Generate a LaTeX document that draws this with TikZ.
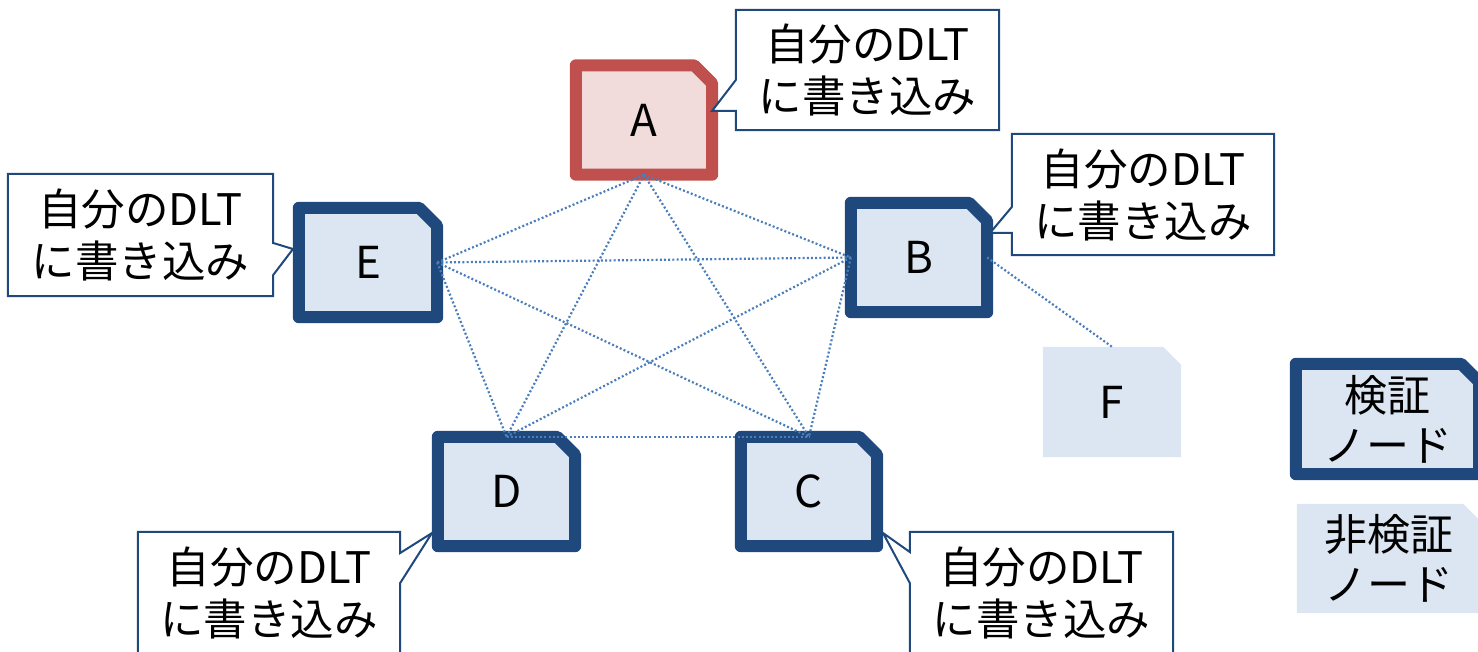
\documentclass[tikz,border=0pt]{standalone}
\usepackage{fontspec}
\setmainfont{Noto Sans CJK JP}
\usetikzlibrary{calc}
\definecolor{nblue}{HTML}{1F497D}
\definecolor{nfill}{HTML}{DCE6F2}
\definecolor{ared}{HTML}{C0504D}
\definecolor{afill}{HTML}{F2DCDB}
\definecolor{lineblue}{HTML}{4A7EBB}
\pgfdeclarelayer{boxes}
\pgfdeclarelayer{callouts}
\pgfsetlayers{boxes,callouts,main}
\tikzset{
 nd/.style={minimum width=136pt, minimum height=109pt, inner sep=0pt, font=\fontsize{44}{50}\selectfont},
 lg/.style={inner sep=0pt, align=center, font=\fontsize{43}{50}\selectfont},
 co/.style={inner sep=0pt, align=center, font=\fontsize{43.5}{52}\selectfont},
 link/.style={draw=lineblue, line width=2.2pt, dash pattern=on 2pt off 2.2pt},
 blueframe/.style={draw=nblue, fill=nfill, line width=12pt, line join=round},
 redframe/.style={draw=ared, fill=afill, line width=12pt, line join=round},
 plainfill/.style={fill=nfill, draw=none},
 cframe/.style={draw=nblue, line width=2pt, fill=white, line join=miter},
}
\newcommand\drawcutbox[2]{%
 \draw[#2] (#1.south west) -- (#1.north west) -- ([xshift=-18pt]#1.north east) -- ([yshift=-18pt]#1.north east) -- (#1.south east) -- cycle;}
\begin{document}
\begin{tikzpicture}[x=1pt,y=-1pt]
\useasboundingbox (0,0) rectangle (1478,652);
% nodes
\node[nd] (A) at (644,120) {A};
\node[nd] (B) at (919,257.5) {B};
\node[nd, minimum width=138pt] (E) at (368,262.5) {E};
\node[nd, minimum width=137pt] (D) at (506.5,491.5) {D};
\node[nd] (C) at (809,491.5) {C};
\node[nd, minimum width=138pt, minimum height=110pt] (F) at (1112,402) {F};
\node[lg, minimum width=183pt, minimum height=110pt] (V) at (1387.5,419) {検証\\ノード};
\node[lg, minimum width=184pt, minimum height=109pt] (N) at (1389,558.5) {非検証\\ノード};
\begin{pgfonlayer}{boxes}
 \drawcutbox{A}{redframe}
 \foreach \n in {B,C,D,E,V} {\drawcutbox{\n}{blueframe}}
 \drawcutbox{F}{plainfill}
 \drawcutbox{N}{plainfill}
\end{pgfonlayer}
% connectors
\draw[link] (A.south) -- (E.east);
\draw[link] (A.south) -- (B.west);
\draw[link] (A.south) -- (D.north);
\draw[link] (A.south) -- (C.north);
\draw[link] (E.east) -- (B.west);
\draw[link] (E.east) -- (D.north);
\draw[link] (E.east) -- (C.north);
\draw[link] (B.west) -- (D.north);
\draw[link] (B.west) -- (C.north);
\draw[link] (D.north) -- (C.north);
\draw[link] (B.east) -- (F.north);
% callouts
\node[co, minimum width=263pt, minimum height=120pt] (cA) at (867.5,70) {自分のDLT\\に書き込み};
\node[co, minimum width=262pt, minimum height=121pt] (cB) at (1143,194.5) {自分のDLT\\に書き込み};
\node[co, minimum width=265pt, minimum height=122pt] (cE) at (140.5,235) {自分のDLT\\に書き込み};
\node[co, minimum width=262pt, minimum height=121pt] (cD) at (269,592.5) {自分のDLT\\に書き込み};
\node[co, minimum width=263pt, minimum height=121pt] (cC) at (1041.5,592.5) {自分のDLT\\に書き込み};
\coordinate (tA) at (712,111);
\coordinate (tB) at (990,233);
\coordinate (tE) at (293,249);
\coordinate (tD) at (432,533);
\coordinate (tC) at (883,533);
\begin{pgfonlayer}{callouts}
 \draw[cframe] (cA.north west) -- (cA.north east) -- (cA.south east) -- (cA.south west) -- (cA.west |- 0,111) -- (tA) -- (cA.west |- 0,80) -- cycle;
 \draw[cframe] (cB.north west) -- (cB.north east) -- (cB.south east) -- (cB.south west) -- (cB.west |- 0,233) -- (tB) -- (cB.west |- 0,207) -- cycle;
 \draw[cframe] (cE.north west) -- (cE.north east) -- (cE.east |- 0,243) -- (tE) -- (cE.east |- 0,275) -- (cE.south east) -- (cE.south west) -- cycle;
 \draw[cframe] (cD.north west) -- (cD.north east) -- (cD.east |- 0,553) -- (tD) -- (cD.east |- 0,583) -- (cD.south east) -- (cD.south west) -- cycle;
 \draw[cframe] (cC.north west) -- (cC.north east) -- (cC.south east) -- (cC.south west) -- (cC.west |- 0,583) -- (tC) -- (cC.west |- 0,552) -- cycle;
\end{pgfonlayer}
\end{tikzpicture}
\end{document}
